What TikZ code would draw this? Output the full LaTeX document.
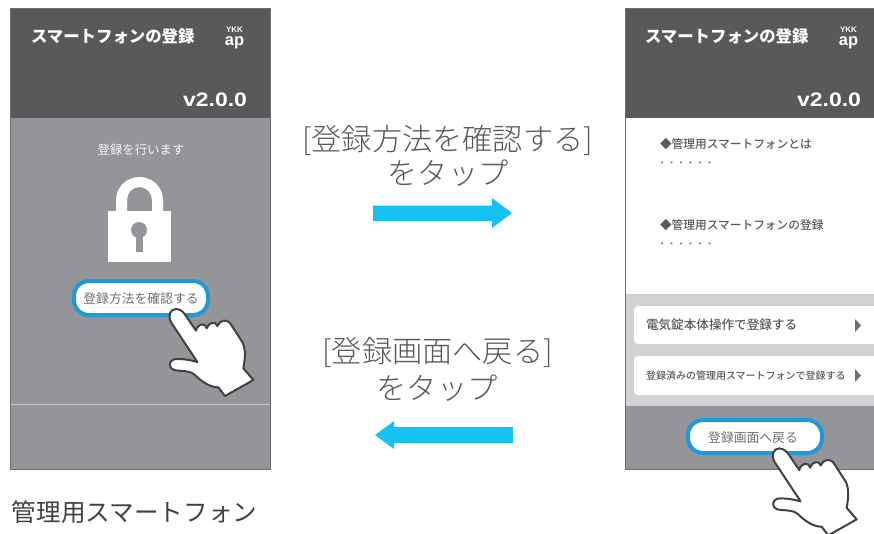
\documentclass[tikz,border=0pt]{standalone}
\usepackage{fontspec}
\setmainfont{Noto Sans CJK JP}
\newfontfamily\verfont{Liberation Sans}
\newfontfamily\lightfont{Noto Sans CJK JP Light}
\newfontfamily\medfont{Noto Sans CJK JP Medium}
\newfontfamily\heavyfont{Noto Sans CJK JP Black}
\definecolor{hdr}{HTML}{58595B}
\definecolor{body}{HTML}{939598}
\definecolor{pale}{HTML}{D1D3D4}
\definecolor{edge}{HTML}{6D6E71}
\definecolor{ring}{HTML}{1F9AD6}
\definecolor{flow}{HTML}{13C1F3}
\definecolor{ink}{HTML}{414042}
\tikzset{
  every node/.style={inner sep=0pt,outer sep=0pt},
  title/.style={text=white,font=\heavyfont\fontsize{16.4}{18}\selectfont,anchor=west},
  ver/.style={text=white,font=\verfont\bfseries\fontsize{19.5}{20}\selectfont,anchor=east,xscale=1.18},
  logotop/.style={text=white,font=\verfont\bfseries\fontsize{8}{9}\selectfont},
  logobot/.style={text=white,font=\verfont\bfseries\fontsize{16.5}{17}\selectfont},
  pill/.style={draw=ring,line width=4pt,fill=white,rounded corners=15pt},
  pilltext/.style={text=edge,font=\fontsize{12.8}{14}\selectfont},
  info/.style={text=hdr,font=\medfont\fontsize{11.7}{14}\selectfont,anchor=west},
  dots/.style={text=edge,font=\fontsize{9.5}{12}\selectfont,anchor=west},
  bigtext/.style={text=hdr,font=\lightfont\fontsize{30.2}{32}\selectfont},
  hand/.style={draw=ink,line width=2pt,fill=white,line join=round},
  flowarrow/.style={fill=flow,draw=none},
}
\newcommand{\handpath}{
  (48,27) .. controls (62,27) and (72,38) .. (78,48)
  -- (108,92) .. controls (112,72) and (135,65) .. (140,85)
  .. controls (146,66) and (168,62) .. (172,78)
  .. controls (180,60) and (200,55) .. (212,72)
  -- (248,128) .. controls (258,150) and (255,180) .. (250,205)
  -- (280,240) -- (195,288) -- (175,262)
  .. controls (150,262) and (125,245) .. (105,225)
  .. controls (85,208) and (60,215) .. (42,210)
  .. controls (25,205) and (25,182) .. (42,178)
  .. controls (65,175) and (90,180) .. (112,186)
  -- (34,68) .. controls (22,48) and (30,27) .. (48,27) -- cycle
}
\begin{document}
\begin{tikzpicture}[x=1pt,y=-1pt]
\useasboundingbox (0,0) rectangle (874,533);
% left phone
\fill[body] (10.5,118) rectangle (270,469);
\fill[hdr] (10.5,8) rectangle (270,118);
\draw[edge,line width=.7pt] (10.5,8) rectangle (270,469);
\draw[pale!80!body,line width=1pt] (11,404) -- (270,404);
\node[title] (t1) at (31,36) {スマートフォンの登録};
\node[logotop] (y1) at (234.5,30) {YKK};
\node[logobot] (a1) at (234.5,42.5) {ap};
\node[ver] (v1) at (247,100) {v2.0.0};
\node[text=white!92!body,font=\fontsize{12.4}{14}\selectfont] (m1) at (141,149.5) {登録を行います};
% lock
\fill[white] (116,215) -- (116,200) arc[start angle=180,end angle=360,x radius=23.5,y radius=23] -- (163,215) -- (152,215) -- (152,200) arc[start angle=360,end angle=180,x radius=12.5,y radius=13] -- (127,215) -- cycle;
\fill[white] (108,211) rectangle (171,261.5);
\fill[body] (139,230) circle (8);
\fill[body] (135.8,232) rectangle (142.8,252);
% button 1
\node[pill,minimum width=134pt,minimum height=34pt] (b1) at (141,298) {};
\node[pilltext] (b1t) at (141,299) {登録方法を確認する};
\begin{scope}[shift={(160,300)},x=.3333pt,y=-.3333pt]
\draw[hand] \handpath;
\end{scope}
\node[text=ink,font=\fontsize{24.6}{28}\selectfont,anchor=west] (cap) at (12,512) {管理用スマートフォン};
% centre
\node[bigtext] (c1) at (447.5,140) {[登録方法を確認する]};
\node[bigtext] (c2) at (448,173.5) {をタップ};
\fill[flowarrow] (373,205.7) -- (492,205.7) -- (492,198) -- (512,213) -- (492,228) -- (492,221) -- (373,221) -- cycle;
\node[bigtext] (c3) at (437.5,352) {[登録画面へ戻る]};
\node[bigtext] (c4) at (437,388.5) {をタップ};
\fill[flowarrow] (513,427) -- (394,427) -- (394,421) -- (375,435) -- (394,449) -- (394,443) -- (513,443) -- cycle;
% right phone
\fill[white] (625,118) rectangle (874,294);
\fill[pale] (625,294) rectangle (874,406);
\fill[body] (625,406) rectangle (874,469);
\fill[hdr] (625,8) rectangle (874,118);
\draw[edge,line width=.7pt] (874,8) -- (625,8) -- (625,469) -- (874,469);
\node[title] (t2) at (645,36) {スマートフォンの登録};
\node[logotop] (y2) at (848.5,30) {YKK};
\node[logobot] (a2) at (848.5,42.5) {ap};
\node[ver] (v2) at (861,100) {v2.0.0};
\node[info] (i1) at (660,144) {◆管理用スマートフォンとは};
\node[dots] (d1) at (657.3,164) {・・・・・・};
\node[info] (i2) at (660,225) {◆管理用スマートフォンの登録};
\node[dots] (d2) at (657.3,245) {・・・・・・};
\fill[white,rounded corners=4pt] (634,306) rectangle (884,344);
\fill[white,rounded corners=4pt] (634,356) rectangle (884,395);
\node[info,font=\medfont\fontsize{12.6}{14}\selectfont] (o1) at (646,325) {電気錠本体操作で登録する};
\node[info,font=\medfont\fontsize{10}{12}\selectfont] (o2) at (646,375.5) {登録済みの管理用スマートフォンで登録する};
\fill[edge] (855,319) -- (861,325.5) -- (855,332) -- cycle;
\fill[edge] (855,369) -- (861,375.5) -- (855,382) -- cycle;
\node[pill,minimum width=134pt,minimum height=33pt] (b2) at (755,436.5) {};
\node[pilltext] (b2t) at (753,437.5) {登録画面へ戻る};
\begin{scope}[shift={(763.3,439.4)},x=.3333pt,y=-.3333pt]
\draw[hand] \handpath;
\end{scope}
\end{tikzpicture}
\end{document}
